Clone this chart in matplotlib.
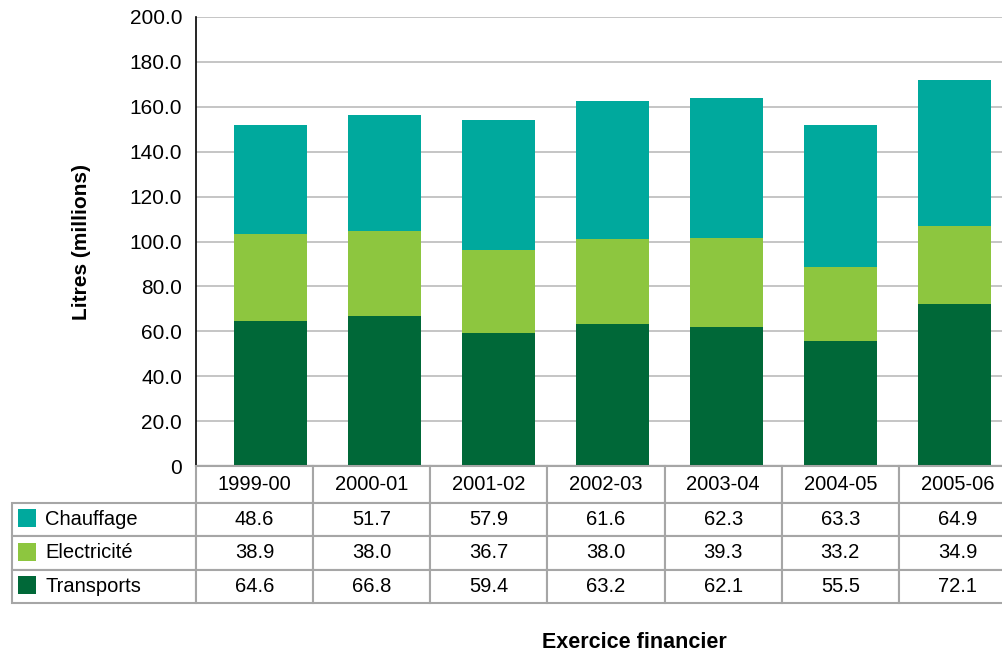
import matplotlib.pyplot as plt
from matplotlib.table import Table
from matplotlib.patches import Rectangle

plt.rcParams['font.family'] = ['Liberation Sans', 'DejaVu Sans']

years = ['1999-00', '2000-01', '2001-02', '2002-03', '2003-04', '2004-05', '2005-06']
series = ['Chauffage', 'Electricité', 'Transports']
chauffage = [48.6, 51.7, 57.9, 61.6, 62.3, 63.3, 64.9]
electricite = [38.9, 38.0, 36.7, 38.0, 39.3, 33.2, 34.9]
transports = [64.6, 66.8, 59.4, 63.2, 62.1, 55.5, 72.1]
y_ticks = [0, 20, 40, 60, 80, 100, 120, 140, 160, 180, 200]

# colours
c_chauf = '#00A99D'
c_elec = '#8DC63F'
c_trans = '#006838'
grid_color = '#BBBBBB'
table_line = '#A6A6A6'

W, H = 1002, 654
fig = plt.figure(figsize=(W / 100, H / 100), dpi=100)

def fx(p):
    return p / W

def fy(p):
    return 1 - p / H

# main plot area (right edge runs past the figure, as in the original)
ax = fig.add_axes([fx(196), fy(466), fx(1016 - 196), (466 - 17) / H])
x = list(range(len(years)))
bw = 0.64
ax.bar(x, transports, width=bw, color=c_trans, zorder=3)
ax.bar(x, electricite, width=bw, bottom=transports, color=c_elec, zorder=3)
bottom3 = [a + b for a, b in zip(transports, electricite)]
ax.bar(x, chauffage, width=bw, bottom=bottom3, color=c_chauf, zorder=3)

ax.set_xlim(-0.657, 6.543)
ax.set_ylim(0, 200)
ax.set_yticks(y_ticks)
ax.set_yticklabels(['0'] + [f'{v:.1f}' for v in y_ticks[1:]])
ax.set_xticks([])
ax.tick_params(axis='y', length=0, pad=10, labelsize=15)
ax.grid(axis='y', color=grid_color, linewidth=1.2, zorder=1)
for s in ['top', 'right']:
    ax.spines[s].set_visible(False)
ax.spines['left'].set_linewidth(1.2)
ax.spines['bottom'].set_linewidth(1.5)
ax.spines['bottom'].set_zorder(5)
ax.set_ylabel('Litres (millions)', fontsize=15, fontweight='bold', labelpad=28)

# data table under the chart
tax = fig.add_axes([0, 0, 1, 1])
tax.set_axis_off()
tax.set_xlim(0, 1)
tax.set_ylim(0, 1)

# bbox covers only the value grid; the label column sits to its left
tbl = Table(tax, bbox=[fx(196), fy(603), fx(1016 - 196), (603 - 466) / H])
lab_w = (196 - 12) / W
col_w = (1016 - 196) / 7 / W
head_h = 37 / H
row_h = 33.5 / H
for j, yr in enumerate(years):
    c = tbl.add_cell(0, j, col_w, head_h, text=yr, loc='center')
    c.set_edgecolor(table_line)
    c.set_linewidth(1.5)
rows = [chauffage, electricite, transports]
for i, (name, vals) in enumerate(zip(series, rows), start=1):
    c = tbl.add_cell(i, -1, lab_w, row_h, text=name, loc='left')
    c.PAD = (45 - 12) / (196 - 12)
    c.set_edgecolor(table_line)
    c.set_linewidth(1.5)
    for j, v in enumerate(vals):
        c = tbl.add_cell(i, j, col_w, row_h, text=f'{v:.1f}', loc='center')
        c.set_edgecolor(table_line)
        c.set_linewidth(1.5)
tbl.auto_set_font_size(False)
tbl.set_fontsize(14.5)
tbl.set_clip_on(False)
tax.add_table(tbl)

# legend keys inside the label cells
for i, col in enumerate([c_chauf, c_elec, c_trans]):
    top = 503 + 6 + i * 33.5
    tax.add_patch(Rectangle((fx(18), fy(top + 18)), fx(18), 18 / H,
                            facecolor=col, edgecolor='none', zorder=5))

fig.text(fx(634), fy(643), 'Exercice financier', fontsize=15.5, fontweight='bold',
         ha='center', va='center')

plt.savefig('out.png', dpi=100)
